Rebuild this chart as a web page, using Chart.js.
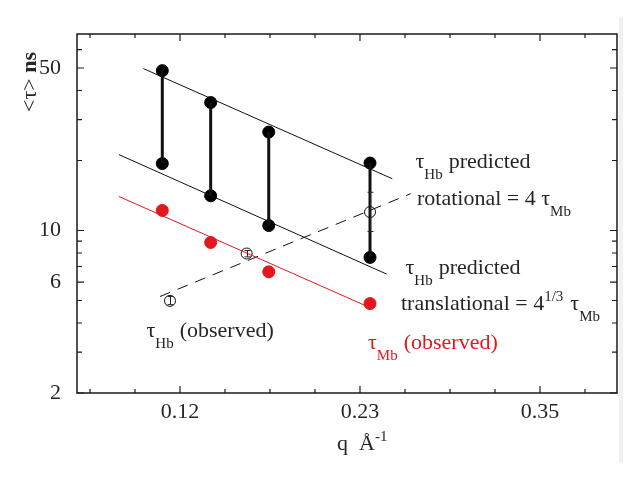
<!DOCTYPE html>
<html>
<head>
<meta charset="utf-8">
<script src="https://cdn.jsdelivr.net/npm/chart.js@4.4.0/dist/chart.umd.min.js"></script>
<style>
  html, body { margin: 0; padding: 0; background: #fff; }
  #wrap { width: 634px; height: 477px; }
</style>
</head>
<body>
<div id="wrap"><canvas id="tauChart" width="634" height="477"></canvas></div>
<script>
  // q values (A^-1) of the measured points
  var qPred = [0.1087, 0.1396, 0.1767, 0.2414];
  var qHbObs = [0.1136, 0.1626, 0.2414];

  // <tau> in ns
  var tauRot = [48.7, 35.5, 26.5, 19.5];      // Hb predicted, rotational
  var tauTrans = [19.4, 14.1, 10.5, 7.66];    // Hb predicted, translational
  var tauMb = [12.2, 8.88, 6.64, 4.85];       // Mb observed
  var tauHb = [4.98, 7.96, 12.0];             // Hb observed
  var tauHbLow = [4.8, 7.7, 9.9];
  var tauHbHigh = [5.2, 8.2, 14.6];

  // fitted lines, end points
  var rotFitQ = [0.0966, 0.2556], rotFitTau = [49.7, 16.7];
  var transFitQ = [0.0810, 0.2521], transFitTau = [21.2, 6.49];
  var mbFitQ = [0.0810, 0.2429], mbFitTau = [14.0, 4.61];
  var hbFitQ = [0.1072, 0.2674], hbFitTau = [5.20, 14.4];

  // axes
  var xTickValues = [0.12, 0.235, 0.35];
  var xTickLabels = ["0.12", "0.23", "0.35"];
  var xMinorTicks = [0.0625, 0.09125, 0.14875, 0.1775, 0.20625, 0.26375, 0.2925, 0.32125, 0.37875];
  var yTickLabels = [2, 6, 10, 50];
  var yMinorTicks = [3, 4, 5, 7, 8, 9, 20, 30, 40, 60];

  function pts(xs, ys) {
    return xs.map(function (x, i) { return { x: x, y: ys[i] }; });
  }

  var connectors = [];
  qPred.forEach(function (q, i) {
    connectors.push({ x: q, y: tauRot[i] }, { x: q, y: tauTrans[i] }, { x: q, y: null });
  });

  var SERIF = '"Liberation Serif", "Times New Roman", serif';
  var INK = '#262626';
  var RED = '#e3171d';

  // draws text pieces one after another, with sub / superscripts
  function rich(ctx, x, y, parts, color) {
    ctx.fillStyle = color;
    ctx.textAlign = 'left';
    ctx.textBaseline = 'alphabetic';
    parts.forEach(function (p) {
      var size = p.sub || p.sup ? 15 : 22;
      var dy = p.sub ? 11 : (p.sup ? -9 : 0);
      ctx.font = (p.bold ? 'bold ' : '') + size + 'px ' + SERIF;
      ctx.fillText(p.t, x, y + dy);
      x += ctx.measureText(p.t).width + (p.gap || 0);
    });
  }

  var decorations = {
    id: 'decorations',
    beforeDraw: function (chart) {
      var ctx = chart.ctx;
      ctx.save();
      ctx.fillStyle = '#fff';
      ctx.fillRect(0, 0, chart.width, chart.height);
      ctx.fillStyle = '#f1f1f1';
      ctx.fillRect(619, 17, 4, 446);
      ctx.restore();
    },
    afterDatasetsDraw: function (chart) {
      var ctx = chart.ctx, a = chart.chartArea;
      var xs = chart.scales.x, ys = chart.scales.y;
      ctx.save();

      // error bars of the open circles
      ctx.strokeStyle = INK;
      ctx.lineWidth = 1;
      qHbObs.forEach(function (q, i) {
        var px = Math.round(xs.getPixelForValue(q)) + 0.5;
        var lo = ys.getPixelForValue(tauHbLow[i]), hi = ys.getPixelForValue(tauHbHigh[i]);
        ctx.beginPath();
        ctx.moveTo(px, lo); ctx.lineTo(px, hi);
        ctx.moveTo(px - 3, lo); ctx.lineTo(px + 3, lo);
        ctx.moveTo(px - 3, hi); ctx.lineTo(px + 3, hi);
        ctx.stroke();
      });

      // frame
      ctx.strokeStyle = '#1a1a1a';
      ctx.lineWidth = 1.5;
      ctx.strokeRect(a.left, a.top, a.right - a.left, a.bottom - a.top);

      // inward ticks on all four sides
      ctx.lineWidth = 1.2;
      function xTick(v, len) {
        var px = xs.getPixelForValue(v);
        ctx.beginPath();
        ctx.moveTo(px, a.bottom); ctx.lineTo(px, a.bottom - len);
        ctx.moveTo(px, a.top); ctx.lineTo(px, a.top + len);
        ctx.stroke();
      }
      function yTick(v, len) {
        var py = ys.getPixelForValue(v);
        ctx.beginPath();
        ctx.moveTo(a.left, py); ctx.lineTo(a.left + len, py);
        ctx.moveTo(a.right, py); ctx.lineTo(a.right - len, py);
        ctx.stroke();
      }
      xTickValues.forEach(function (v) { xTick(v, 7); });
      xMinorTicks.forEach(function (v) { xTick(v, 4); });
      yTickLabels.forEach(function (v) { yTick(v, 7); });
      yMinorTicks.forEach(function (v) { yTick(v, 5); });

      // annotations
      rich(ctx, 415.5, 168, [{ t: 'τ' }, { t: 'Hb', sub: true, gap: 6 }, { t: 'predicted' }], INK);
      rich(ctx, 417, 205, [{ t: 'rotational = 4 τ' }, { t: 'Mb', sub: true }], INK);
      rich(ctx, 405.5, 274, [{ t: 'τ' }, { t: 'Hb', sub: true, gap: 6 }, { t: 'predicted' }], INK);
      rich(ctx, 401, 310, [{ t: 'translational = 4' }, { t: '1/3', sup: true, gap: 7 }, { t: 'τ' }, { t: 'Mb', sub: true }], INK);
      rich(ctx, 368, 349, [{ t: 'τ' }, { t: 'Mb', sub: true, gap: 6 }, { t: '(observed)' }], RED);
      rich(ctx, 146.5, 337, [{ t: 'τ' }, { t: 'Hb', sub: true, gap: 6 }, { t: '(observed)' }], INK);

      // axis titles
      rich(ctx, 337, 450, [{ t: 'q  Å' }, { t: '-1', sup: true }], INK);
      ctx.translate(36, 112);
      ctx.rotate(-Math.PI / 2);
      rich(ctx, 0, 0, [{ t: '<τ> ' }, { t: 'ns', bold: true }], INK);
      ctx.restore();
    }
  };

  var ctx = document.getElementById('tauChart').getContext('2d');
  var tauChart = new Chart(ctx, {
    type: 'scatter',
    data: {
      datasets: [
        { label: 'rot fit', type: 'line', data: pts(rotFitQ, rotFitTau), borderColor: '#111', borderWidth: 1, pointRadius: 0 },
        { label: 'trans fit', type: 'line', data: pts(transFitQ, transFitTau), borderColor: '#111', borderWidth: 1, pointRadius: 0 },
        { label: 'Mb fit', type: 'line', data: pts(mbFitQ, mbFitTau), borderColor: RED, borderWidth: 1, pointRadius: 0 },
        { label: 'Hb fit', type: 'line', data: pts(hbFitQ, hbFitTau), borderColor: '#111', borderWidth: 1, borderDash: [11, 8], pointRadius: 0 },
        { label: 'connectors', type: 'line', data: connectors, borderColor: '#111', borderWidth: 3, pointRadius: 0, spanGaps: false },
        { label: 'Hb predicted rotational', data: pts(qPred, tauRot), backgroundColor: '#000', borderColor: '#000', pointRadius: 6 },
        { label: 'Hb predicted translational', data: pts(qPred, tauTrans), backgroundColor: '#000', borderColor: '#000', pointRadius: 6 },
        { label: 'Mb observed', data: pts(qPred, tauMb), backgroundColor: RED, borderColor: RED, pointRadius: 6 },
        { label: 'Hb observed', data: pts(qHbObs, tauHb), backgroundColor: 'rgba(255,255,255,0)', borderColor: '#111', borderWidth: 1, pointRadius: 5.5 }
      ]
    },
    options: {
      responsive: false,
      animation: false,
      events: [],
      layout: { padding: { left: 0, top: 34, right: 17, bottom: 0 } },
      plugins: { legend: { display: false }, tooltip: { enabled: false } },
      scales: {
        x: {
          type: 'linear',
          min: 0.0542,
          max: 0.3992,
          grid: { display: false, drawTicks: false },
          border: { display: false },
          afterFit: function (s) { s.height = 84; },
          afterBuildTicks: function (s) { s.ticks = xTickValues.map(function (v) { return { value: v }; }); },
          ticks: {
            padding: 6,
            color: INK,
            font: { family: SERIF, size: 22 },
            callback: function (v) { return xTickLabels[xTickValues.indexOf(v)]; }
          }
        },
        y: {
          type: 'logarithmic',
          min: 2,
          max: 70,
          grid: { display: false, drawTicks: false },
          border: { display: false },
          afterFit: function (s) { s.width = 77; },
          afterBuildTicks: function (s) { s.ticks = yTickLabels.map(function (v) { return { value: v }; }); },
          ticks: {
            padding: 16,
            color: INK,
            font: { family: SERIF, size: 22 },
            callback: function (v) { return String(v); }
          }
        }
      }
    },
    plugins: [decorations]
  });
</script>
</body>
</html>
